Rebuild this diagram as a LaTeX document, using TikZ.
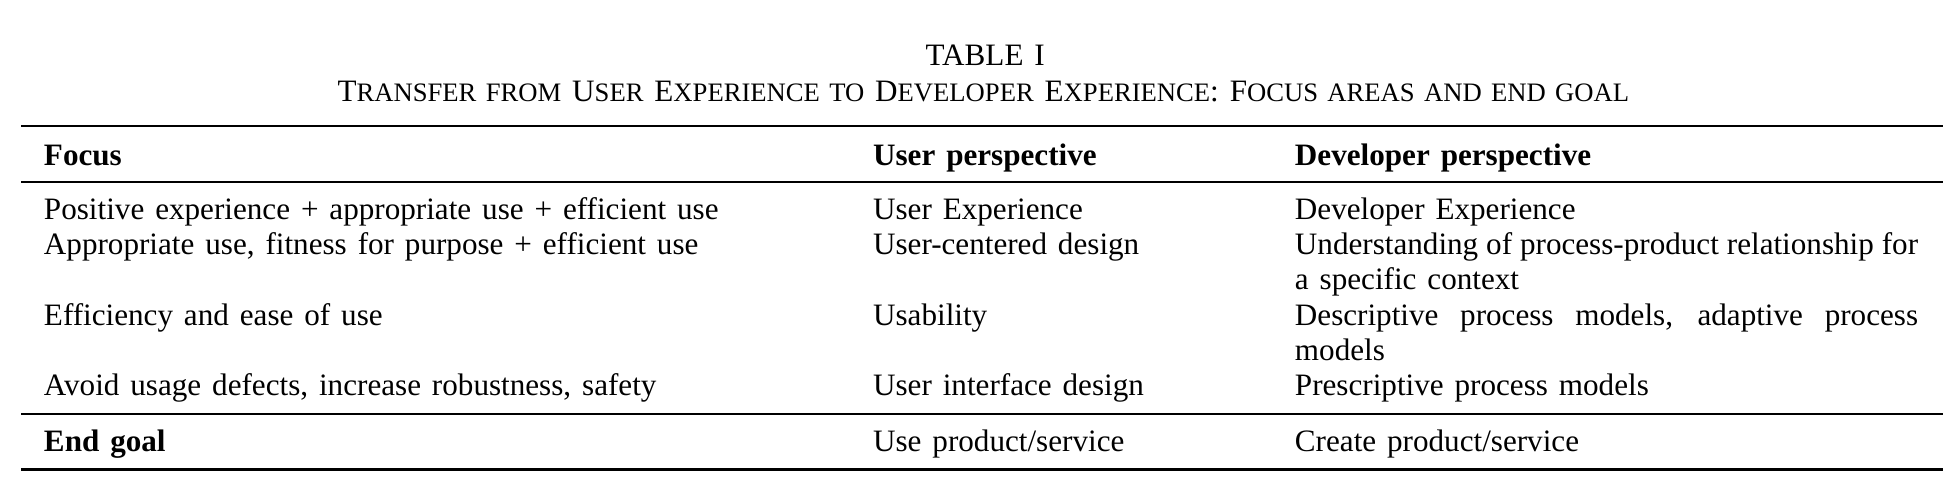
\documentclass[tikz,border=0pt]{standalone}
\usepackage{fontspec}
\setmainfont{Liberation Serif}[WordSpace=1.4]
\newcommand\scx[1]{{\fontsize{7.15pt}{9.5pt}\selectfont #1}}
\tikzset{
  cell/.style={anchor=base west, inner sep=0pt, outer sep=0pt, font=\fontsize{8.36pt}{9.5pt}\selectfont},
  head/.style={cell, font=\fontsize{8.36pt}{9.5pt}\selectfont\bfseries},
  captext/.style={anchor=base, inner sep=0pt, font=\fontsize{8.36pt}{9.5pt}\selectfont},
  heavyrule/.style={line width=0.8pt},
  lightrule/.style={line width=0.5pt}
}
\begin{document}
\begin{tikzpicture}[x=1pt,y=-1pt]
\useasboundingbox (0,0) rectangle (526.2,135.3);
% caption
\node[captext] (title) at (264.5,17.72) {TABLE I};
\node[captext] (subtitle) at (264,27.25) {T\scx{RANSFER FROM} U\scx{SER} E\scx{XPERIENCE TO} D\scx{EVELOPER} E\scx{XPERIENCE}: F\scx{OCUS AREAS AND END GOAL}};
% rules
\coordinate (tl) at (5.64,33.83);  \coordinate (tr) at (521.6,33.83);
\coordinate (ml) at (5.64,48.94);  \coordinate (mr) at (521.6,48.94);
\coordinate (ll) at (5.64,111.14); \coordinate (lr) at (521.6,111.14);
\coordinate (bl) at (5.64,126.17); \coordinate (br) at (521.6,126.17);
\draw[heavyrule] (tl) -- (tr);
\draw[lightrule] (ml) -- (mr);
\draw[lightrule] (ll) -- (lr);
\draw[heavyrule] (bl) -- (br);
% header
\node[head] (h1) at (11.81,44.38) {Focus};
\node[head] (h2) at (234.4,44.38) {User perspective};
\node[head] (h3) at (347.65,44.38) {Developer perspective};
% row 1
\node[cell] (a1) at (11.81,58.8) {Positive experience + appropriate use + efficient use};
\node[cell] (b1) at (234.4,58.8) {User Experience};
\node[cell] (c1) at (347.65,58.8) {Developer Experience};
% row 2
\node[cell] (a2) at (11.81,68.3) {Appropriate use, fitness for purpose + efficient use};
\node[cell] (b2) at (234.4,68.3) {User-centered design};
\node[cell] (c2) at (347.65,68.3) {\makebox[167.3pt][s]{Understanding of process-product relationship for}};
\node[cell] (c2b) at (347.65,77.8) {a specific context};
% row 3
\node[cell] (a3) at (11.81,87.3) {Efficiency and ease of use};
\node[cell] (b3) at (234.4,87.3) {Usability};
\node[cell] (c3) at (347.65,87.3) {\makebox[167.3pt][s]{Descriptive process models, adaptive process}};
\node[cell] (c3b) at (347.65,96.8) {models};
% row 4
\node[cell] (a4) at (11.81,106.3) {Avoid usage defects, increase robustness, safety};
\node[cell] (b4) at (234.4,106.3) {User interface design};
\node[cell] (c4) at (347.65,106.3) {Prescriptive process models};
% end goal
\node[head] (e1) at (11.81,121.3) {End goal};
\node[cell] (e2) at (234.4,121.3) {Use product/service};
\node[cell] (e3) at (347.65,121.3) {Create product/service};
\end{tikzpicture}
\end{document}
